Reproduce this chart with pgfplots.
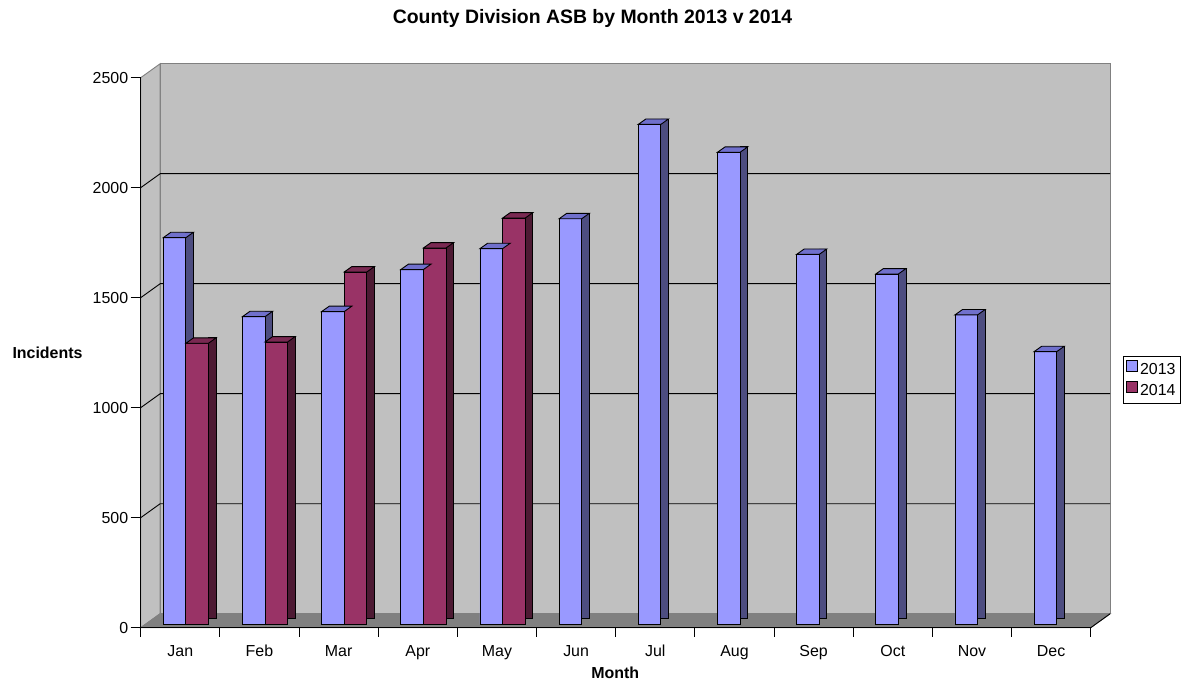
\documentclass[border=0pt]{standalone}
\usepackage{pgfplots}
\pgfplotsset{compat=1.18}
\usepackage{pgfplotstable}
\usepackage{fontspec}
\setmainfont{Liberation Sans}
\definecolor{wall}{HTML}{C0C0C0}
\definecolor{floorc}{HTML}{808080}
\definecolor{edge}{HTML}{808080}
\definecolor{fA}{RGB}{153,153,255}
\definecolor{tA}{RGB}{112,112,204}
\definecolor{sA}{RGB}{77,77,128}
\definecolor{fB}{RGB}{153,51,102}
\definecolor{tB}{RGB}{122,41,82}
\definecolor{sB}{RGB}{77,26,51}
\pgfdeclareplotmark{topA}{%
  \pgfpathmoveto{\pgfpoint{-17bp}{3.7bp}}%
  \pgfpathlineto{\pgfpoint{5.6bp}{3.7bp}}%
  \pgfpathlineto{\pgfpoint{13.2bp}{9.1bp}}%
  \pgfpathlineto{\pgfpoint{-9.4bp}{9.1bp}}%
  \pgfpathclose\pgfusepathqfillstroke}
\pgfdeclareplotmark{topB}{%
  \pgfpathmoveto{\pgfpoint{5.6bp}{3.7bp}}%
  \pgfpathlineto{\pgfpoint{28.2bp}{3.7bp}}%
  \pgfpathlineto{\pgfpoint{35.8bp}{9.1bp}}%
  \pgfpathlineto{\pgfpoint{13.2bp}{9.1bp}}%
  \pgfpathclose\pgfusepathqfillstroke}
\pgfplotstableread{
x v
0 1756
1 1397
2 1420
3 1611
4 1706
5 1842
6 2271
7 2144
8 1680
9 1591
10 1405
11 1238
}\dataA
\pgfplotstableread{
x v
0 1276
1 1282
2 1600
3 1709
4 1845
}\dataB
\begin{document}
\begin{tikzpicture}
\useasboundingbox (-140.7bp,-58.3bp) rectangle (1050.3bp,627.7bp);
\begin{axis}[at={(0,0)}, anchor=south west, scale only axis,
  width=950bp, height=550bp,
  xmin=-0.5, xmax=11.5, ymin=0, ymax=2500, clip=false, axis on top,
  axis lines*=left, axis line style={-, black, line width=0.9bp},
  xtick={0,...,11},
  xticklabels={Jan,Feb,Mar,Apr,May,Jun,Jul,Aug,Sep,Oct,Nov,Dec},
  minor xtick={-0.5,0.5,...,11.5},
  ytick={0,500,1000,1500,2000,2500},
  yticklabels={0,500,1000,1500,2000,2500},
  tick align=outside, major tick length=10bp, minor tick length=9bp,
  tick style={black, line width=0.9bp},
  major x tick style={draw=none},
  ticklabel style={font=\fontsize{16}{16}\selectfont},
  xticklabel style={yshift=-4bp},
  yticklabel style={xshift=1bp},
  legend style={at={(1.0337,0.4945)}, anchor=north west, draw=black,
    line width=0.9bp, font=\fontsize{16}{16}\selectfont,
    inner xsep=3bp, inner ysep=4bp, row sep=3bp, cells={anchor=west}},
]
% walls and floor
\fill[wall, draw=edge, line width=0.9bp] ([xshift=19.5bp,yshift=14bp]axis cs:-0.5,0) rectangle ([xshift=19.5bp,yshift=14bp]axis cs:11.5,2500);
\fill[wall, draw=edge, line width=0.9bp] (axis cs:-0.5,0) -- (axis cs:-0.5,2500) -- ([xshift=19.5bp,yshift=14bp]axis cs:-0.5,2500) -- ([xshift=19.5bp,yshift=14bp]axis cs:-0.5,0) -- cycle;
\fill[floorc, draw=edge, line width=0.9bp] (axis cs:-0.5,0) -- (axis cs:11.5,0) -- ([xshift=19.5bp,yshift=14bp]axis cs:11.5,0) -- ([xshift=19.5bp,yshift=14bp]axis cs:-0.5,0) -- cycle;
\draw[black, line width=0.9bp] (axis cs:11.5,0) -- ([xshift=19.5bp,yshift=14bp]axis cs:11.5,0);
\pgfplotsinvokeforeach{500,1000,1500,2000}{
  \draw[black, line width=0.9bp] (axis cs:-0.5,#1) -- ([xshift=19.5bp,yshift=14bp]axis cs:-0.5,#1) -- ([xshift=19.5bp,yshift=14bp]axis cs:11.5,#1);
}
% 2013
\addplot[ybar, bar width=7.6bp, bar shift=9.4bp, yshift=9.1bp, fill=sA, draw=black, line width=0.9bp, forget plot] table[x=x,y=v] {\dataA};
\addplot[ybar, bar width=22.6bp, bar shift=-5.7bp, yshift=3.7bp, fill=fA, draw=black, line width=0.9bp,
  legend image code/.code={\draw[fill=fA, draw=black, line width=0.9bp] (0bp,-5.5bp) rectangle (11bp,5.5bp);}] table[x=x,y=v] {\dataA};
\addlegendentry{2013}
\addplot[only marks, mark=topA, mark options={fill=tA, draw=black, line width=0.9bp}, forget plot] table[x=x,y=v] {\dataA};
% 2014
\addplot[ybar, bar width=7.6bp, bar shift=32bp, yshift=9.1bp, fill=sB, draw=black, line width=0.9bp, forget plot] table[x=x,y=v] {\dataB};
\addplot[ybar, bar width=22.6bp, bar shift=16.9bp, yshift=3.7bp, fill=fB, draw=black, line width=0.9bp,
  legend image code/.code={\draw[fill=fB, draw=black, line width=0.9bp] (0bp,-5.5bp) rectangle (11bp,5.5bp);}] table[x=x,y=v] {\dataB};
\addlegendentry{2014}
\addplot[only marks, mark=topB, mark options={fill=tB, draw=black, line width=0.9bp}, forget plot] table[x=x,y=v] {\dataB};
\end{axis}
\node[anchor=base, font=\bfseries\fontsize{19.5}{20}\selectfont] at (451.8bp,603.7bp) {County Division ASB by Month 2013 v 2014};
\node[anchor=base, font=\bfseries\fontsize{16}{16}\selectfont] at (-93.2bp,268.7bp) {Incidents};
\node[anchor=base, font=\bfseries\fontsize{16}{16}\selectfont] at (474.6bp,-50.6bp) {Month};
\end{tikzpicture}
\end{document}
